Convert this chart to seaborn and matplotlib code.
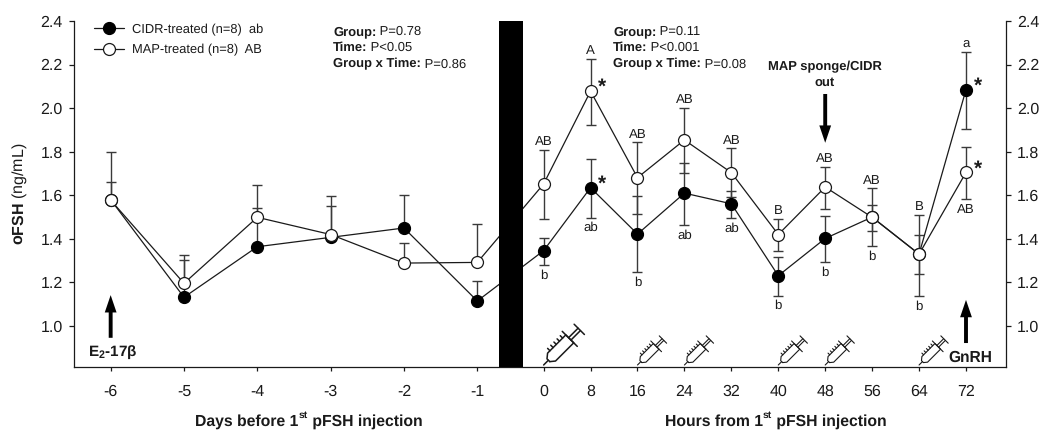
import numpy as np
import pandas as pd
import matplotlib
matplotlib.use('Agg')
import matplotlib.pyplot as plt
from matplotlib.lines import Line2D
from matplotlib.transforms import Affine2D
import seaborn as sns

sns.set_theme(style="ticks")
plt.rcParams['font.family'] = ['Liberation Sans', 'DejaVu Sans']
plt.rcParams['mathtext.fontset'] = 'custom'
plt.rcParams['mathtext.rm'] = 'Liberation Sans'
plt.rcParams['mathtext.it'] = 'Liberation Sans:italic'
plt.rcParams['mathtext.bf'] = 'Liberation Sans:bold'
plt.rcParams['text.hinting'] = 'no_hinting'

INK = '#1a1a1a'
BLACK = '#000000'  # seaborn remaps 'k' to a dark grey

days = [-6, -5, -4, -3, -2, -1]
hours = [0, 8, 16, 24, 32, 40, 48, 56, 64, 72]
tick_labels = [str(d) for d in days] + [str(h) for h in hours]
yticks = [1.0, 1.2, 1.4, 1.6, 1.8, 2.0, 2.2, 2.4]

cidr_mean = [1.58, 1.132, 1.364, 1.407, 1.45, 1.115, 1.346, 1.635, 1.422, 1.61, 1.561, 1.231, 1.402, 1.50, 1.33, 2.085]
cidr_upper = [1.66, 1.303, 1.543, 1.551, 1.60, 1.206, 1.405, 1.768, 1.597, 1.75, 1.62, 1.317, 1.505, 1.557, 1.511, 2.259]
cidr_lower = [1.58, 1.132, 1.364, 1.407, 1.45, 1.115, 1.28, 1.497, 1.246, 1.464, 1.496, 1.139, 1.292, 1.437, 1.138, 1.904]

map_mean = [1.578, 1.196, 1.499, 1.42, 1.289, 1.292, 1.652, 2.078, 1.681, 1.854, 1.704, 1.42, 1.638, 1.499, 1.33, 1.705]
map_upper = [1.80, 1.327, 1.647, 1.598, 1.382, 1.467, 1.808, 2.225, 1.843, 2.0, 1.815, 1.492, 1.731, 1.632, 1.42, 1.824]
map_lower = [1.578, 1.196, 1.499, 1.42, 1.289, 1.292, 1.49, 1.921, 1.512, 1.704, 1.594, 1.344, 1.538, 1.366, 1.239, 1.583]

# letters above / below the error bars, hours only
upper_letters = ['AB', 'A', 'AB', 'AB', 'AB', 'B', 'AB', 'AB', 'B', 'a']
lower_letters = ['b', 'ab', 'b', 'ab', 'ab', 'b', 'b', 'b', 'b', 'AB']

stats_left = [('Group:', ' P=0.78'), ('Time:', ' P<0.05'), ('Group x Time:', ' P=0.86')]
stats_right = [('Group:', ' P=0.11'), ('Time:', ' P<0.001'), ('Group x Time:', ' P=0.08')]

syringe_hours = [0, 16, 24, 40, 48, 64]
star_hours = [8, 72]


def hour_pos(h):
    # the hours part of the axis has its own spacing
    return -0.0955 + h * 0.08


pos = days + [hour_pos(h) for h in hours]
df = pd.DataFrame({'pos': pos, 'cidr': cidr_mean, 'map': map_mean})

fig = plt.figure(figsize=(10.49, 4.30), dpi=100)
W, H = 1049.0, 430.0
ax = fig.add_axes([74 / W, 1 - 367 / H, (1006 - 74) / W, (367 - 21) / H])


def bars(mean, upper, lower, z):
    mean, upper, lower = np.array(mean), np.array(upper), np.array(lower)
    ax.errorbar(pos, mean, yerr=[mean - lower, upper - mean], fmt='none', ecolor='#3a3a3a',
                elinewidth=1.0, capsize=3.6, capthick=1.0, zorder=z)


bars(cidr_mean, cidr_upper, cidr_lower, 2)
bars(map_mean, map_upper, map_lower, 2)

sns.lineplot(data=df, x='pos', y='cidr', ax=ax, color=INK, lw=0.9, marker='o', ms=8.6, mfc=BLACK, mec=BLACK, mew=0.9,
             errorbar=None, label='CIDR-treated (n=8)  ab', zorder=3)
sns.lineplot(data=df, x='pos', y='map', ax=ax, color=INK, lw=0.9, marker='o', ms=8.6, mfc='white', mec=INK, mew=0.9,
             errorbar=None, label='MAP-treated (n=8)  AB', zorder=4)

ax.axvspan(-0.707, -0.376, color=BLACK, lw=0, zorder=6)

ax.set_xlim(-6.5, 6.21)
ax.set_ylim(0.812, 2.4)
ax.set_xticks(pos)
ax.set_xticklabels(tick_labels)
ax.set_yticks(yticks)
ax.set_yticklabels(['%.1f' % v for v in yticks])
ax.set_xlabel('')
ax.set_ylabel('')
ax.tick_params(axis='x', length=3, width=0.9, pad=9.5, labelsize=11.5, color=INK, labelcolor=INK)
ax.tick_params(axis='y', length=3.6, width=0.9, pad=4.5, labelsize=11.5, color=INK, labelcolor=INK,
               right=True, labelright=True)
for side in ['left', 'right', 'bottom']:
    ax.spines[side].set_linewidth(0.9)
    ax.spines[side].set_color(INK)
ax.spines['top'].set_visible(False)

ax.legend(loc='upper left', bbox_to_anchor=(20 / 932, 1 - 2.5 / 346), frameon=False, fontsize=9.3, borderpad=0,
          borderaxespad=0, handlelength=2.3, handletextpad=0.65, labelspacing=0.62, labelcolor=INK)

# significance letters
for i, h in enumerate(hours):
    k = len(days) + i
    top = cidr_upper[k] if h == 72 else max(cidr_upper[k], map_upper[k])
    ax.annotate(upper_letters[i], (hour_pos(h), top), xytext=(0, 1.5), textcoords='offset points',
                ha='center', va='bottom', fontsize=9.5, color=INK, zorder=7)
    low = map_lower[k] if h == 72 else min(cidr_lower[k], map_lower[k])
    ax.annotate(lower_letters[i], (hour_pos(h), low), xytext=(0, -3), textcoords='offset points',
                ha='center', va='top', fontsize=9.5, color=INK, zorder=7)

# asterisks next to the 8 h and 72 h points
for h in star_hours:
    k = len(days) + hours.index(h)
    for val in [cidr_mean[k], map_mean[k]]:
        ax.annotate('*', (hour_pos(h), val), xytext=(5.5, 2.5), textcoords='offset points', ha='left',
                    va='center', fontsize=15, fontweight='bold', color=INK, zorder=7)


renderer = fig.canvas.get_renderer()


def stat_block(x_px, rows):
    for row, (bold, plain) in enumerate(rows):
        y = 1 - (35 + row * 16.2) / H
        t = fig.text(x_px / W, y, bold, fontweight='bold', fontsize=9.4, va='baseline', ha='left', color=INK)
        x1 = t.get_window_extent(renderer).x1
        fig.text(x1 / W, y, plain, fontsize=9.4, va='baseline', ha='left', color=INK)


stat_block(333, stats_left)
stat_block(613, stats_right)


def sup_label(x_px, before, after):
    # bold label with a raised "st", three texts on one baseline
    y = 1 - 425.5 / H
    t = fig.text(x_px / W, y, before, fontweight='bold', fontsize=11.3, va='baseline', ha='left', color=INK)
    x1 = t.get_window_extent(renderer).x1
    s = fig.text(x1 / W, y + 8 / H, 'st', fontweight='bold', fontsize=7.5, va='baseline', ha='left', color=INK)
    x2 = s.get_window_extent(renderer).x1
    fig.text(x2 / W, y, after, fontweight='bold', fontsize=11.3, va='baseline', ha='left', color=INK)


sup_label(195, 'Days before 1', ' pFSH injection')
sup_label(665, 'Hours from 1', ' pFSH injection')

fig.text(20 / W, 1 - 194 / H, r'$\mathbf{oFSH}$ (ng/mL)', rotation=90, ha='center', va='center', fontsize=11.5,
         color=INK)

arrow = dict(width=2.8, headwidth=8.5, headlength=12.5, color=BLACK, shrink=0, lw=0)
ax.annotate('', xy=(-6, 1.142), xytext=(-6, 0.946), arrowprops=arrow, zorder=7)
ax.annotate('', xy=(hour_pos(72), 1.12), xytext=(hour_pos(72), 0.922), arrowprops=arrow, zorder=7)
ax.annotate('', xy=(hour_pos(48), 1.841), xytext=(hour_pos(48), 2.065), arrowprops=arrow, zorder=7)

fig.text(113 / W, 1 - 352 / H, r'$\mathbf{E_{2}}$-17β', ha='center', va='center', fontsize=11, fontweight='bold',
         color=INK)
fig.text(970.7 / W, 1 - 358 / H, 'GnRH', ha='center', va='center', fontsize=11.2, fontweight='bold', color=INK)
fig.text(825 / W, 1 - 75 / H, 'MAP sponge/CIDR\nout', ha='center', va='center', fontsize=9.4, fontweight='bold',
         linespacing=1.35, color=INK)


def syringe(h, size):
    # little icon, tip sitting on the axis at the tick; size in pixels
    x0, y0 = ax.transData.transform((hour_pos(h), 0.812))
    tr = Affine2D().rotate_deg(45).scale(size).translate(x0, y0 + 2)
    parts = [
        [(0, 0), (0.12, 0)],
        [(0.12, -0.035), (0.2, -0.1), (0.66, -0.1), (0.66, 0.1), (0.2, 0.1), (0.12, 0.035), (0.12, -0.035)],
        [(0.66, -0.19), (0.66, 0.19)],
        [(0.66, -0.03), (0.9, -0.03)],
        [(0.66, 0.03), (0.9, 0.03)],
        [(0.9, -0.13), (0.9, 0.13)],
    ]
    for t in [0.26, 0.34, 0.42, 0.5, 0.58]:
        parts.append([(t, 0.1), (t, 0.16)])
    lw = 1.1 if size > 45 else 0.8
    for seg in parts:
        seg = np.array(seg)
        ax.add_line(Line2D(seg[:, 0], seg[:, 1], color=INK, lw=lw, transform=tr, zorder=5, clip_on=False))


for h in syringe_hours:
    syringe(h, 56 if h == 0 else 40)

plt.savefig('out.png', dpi=100)
plt.close()
